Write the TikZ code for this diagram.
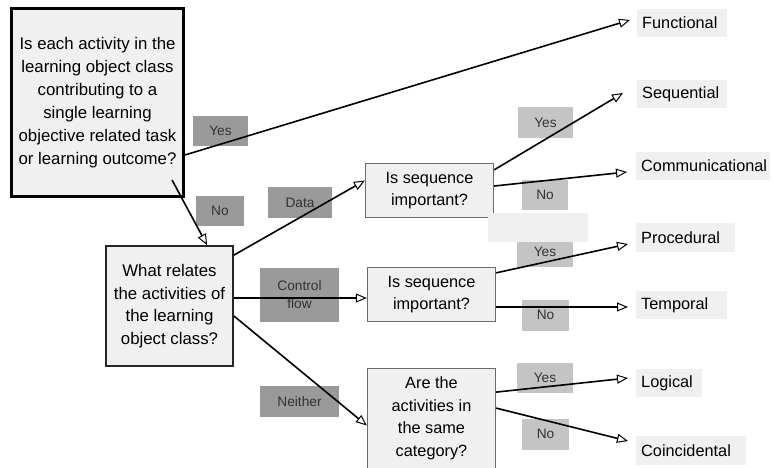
\documentclass[tikz,border=0pt]{standalone}
\usepackage{fontspec}
\setmainfont{Liberation Sans}
\usetikzlibrary{arrows.meta,calc}

\definecolor{boxfill}{HTML}{F0F0F0}
\definecolor{tagdark}{HTML}{9A9A9A}
\definecolor{taglight}{HTML}{C4C4C4}
\definecolor{tagtext}{HTML}{333333}
\definecolor{qborder}{HTML}{6A6A6A}

\tikzset{
  bigq/.style={draw=black, line width=2.6pt, fill=boxfill, align=center,
    inner sep=0pt, font=\fontsize{16.8}{23}\selectfont},
  midq/.style={draw=black!85, line width=1.8pt, fill=boxfill, align=center,
    inner sep=0pt, font=\fontsize{16.8}{22.6}\selectfont},
  smallq/.style={draw=qborder, line width=1.3pt, fill=boxfill, align=center,
    inner sep=0pt, font=\fontsize{16.3}{22.5}\selectfont},
  outcome/.style={fill=boxfill, inner xsep=5pt, inner ysep=0pt,
    minimum height=28.5pt, anchor=west, align=left,
    font=\fontsize{16.3}{19}\selectfont},
  tagd/.style={fill=tagdark, text=tagtext, inner sep=0pt, align=center,
    font=\fontsize{13.7}{18}\selectfont},
  tagl/.style={fill=taglight, text=tagtext, inner sep=0pt, align=center,
    font=\fontsize{13.7}{18}\selectfont},
  arr/.style={draw=black, line width=1.6pt,
    -{Triangle[open, length=11pt, width=9pt, line width=1pt]}},
}

\begin{document}
\begin{tikzpicture}[x=1pt, y=-1pt]
  \useasboundingbox[fill=white] (0,0) rectangle (773,467);

  % question boxes
  \node[bigq, minimum width=172.5pt, minimum height=188.5pt] (b1) at (97.5,102.5)
    {Is each activity in the\\learning object class\\contributing to a\\single learning\\objective related task\\or learning outcome?};
  \node[midq, minimum width=127pt, minimum height=120pt] (b2) at (169.5,306)
    {What relates\\the activities of\\the learning\\object class?};
  \node[smallq, minimum width=128pt, minimum height=54pt] (q1) at (429.5,190.5)
    {Is sequence\\important?};
  \node[smallq, minimum width=128pt, minimum height=54pt] (q2) at (431.5,294.5)
    {Is sequence\\important?};
  \node[smallq, minimum width=128pt, minimum height=99.5pt] (q3) at (431.5,418.5)
    {Are the\\activities in\\the same\\category?};

  % outcomes (text width + 10pt padding = box width)
  \node[outcome, text width=80pt]  (func) at (637,23)    {Functional};
  \node[outcome, text width=80pt]  (seq)  at (637,94)    {Sequential};
  \node[outcome, text width=124pt] (comm) at (636,166)   {Communicational};
  \node[outcome, text width=89pt]  (proc) at (636,237.5) {Procedural};
  \node[outcome, text width=81pt]  (temp) at (636,305)   {Temporal};
  \node[outcome, text width=56pt]  (logi) at (636,383)   {Logical};
  \node[outcome, text width=100pt] (coin) at (636,450.5) {Coincidental};

  % branch tags
  \node[tagd, minimum width=55pt, minimum height=30pt] (yes1) at (220.5,131) {Yes};
  \node[tagd, minimum width=48pt, minimum height=30pt] (no1)  at (220,211)   {No};
  \node[tagd, minimum width=64pt, minimum height=31pt] (data) at (300,202.5) {Data};
  \node[tagd, minimum width=79pt, minimum height=54pt] (ctrl) at (299.5,295) {Control\\flow};
  \node[tagd, minimum width=79pt, minimum height=31pt] (nei)  at (299.5,401.5) {Neither};
  \node[tagl, minimum width=55pt, minimum height=31pt] (yes2) at (545.5,122.5) {Yes};
  \node[tagl, minimum width=46pt, minimum height=30pt] (no2)  at (545,195)   {No};
  \node[tagl, minimum width=56pt, minimum height=30pt] (yes3) at (545,252)   {Yes};
  \node[tagl, minimum width=47pt, minimum height=31pt] (no3)  at (545.5,315) {No};
  \node[tagl, minimum width=56pt, minimum height=30pt] (yes4) at (545,378)   {Yes};
  \node[tagl, minimum width=47pt, minimum height=31pt] (no4)  at (545.5,434) {No};

  % empty panel lying over the first sequence box
  \node[fill=boxfill, inner sep=0pt, minimum width=100pt, minimum height=29pt]
    (blank) at (538,227.5) {};

  % connectors
  \draw[arr] ($(b1.north east)+(0,148)$) -- ($(func.west)+(-7,-3)$);
  \draw[arr] ($(b1.south east)+(-13,-18)$) -- ($(b2.north west)+(102,0)$);
  \draw[arr] ($(b2.north east)+(0,10)$) -- ($(q1.west)+(0,-10)$);
  \draw[arr] ($(b2.east)+(0,-8)$) coordinate (cf) -- (cf -| q2.west);
  \draw[arr] ($(b2.east)+(0,10)$) -- ($(q3.west)+(0,7)$);

  \draw[arr] ($(q1.north east)+(0,7)$) -- ($(seq.west)+(-14,-1)$);
  \draw[arr] ($(q1.east)+(0,-4.5)$) -- ($(comm.west)+(-9,6)$);
  \draw[arr] ($(q2.north east)+(0,6)$) -- ($(proc.west)+(-8,6.5)$);
  \draw[arr] ($(q2.east)+(0,12.5)$) coordinate (tp) -- ($(tp -| temp.west)+(-8,0)$);
  \draw[arr] ($(q3.north east)+(0,24)$) -- ($(logi.west)+(-8,-5)$);
  \draw[arr] ($(q3.north east)+(0,40)$) -- ($(coin.west)+(-8,-9.5)$);
\end{tikzpicture}
\end{document}
